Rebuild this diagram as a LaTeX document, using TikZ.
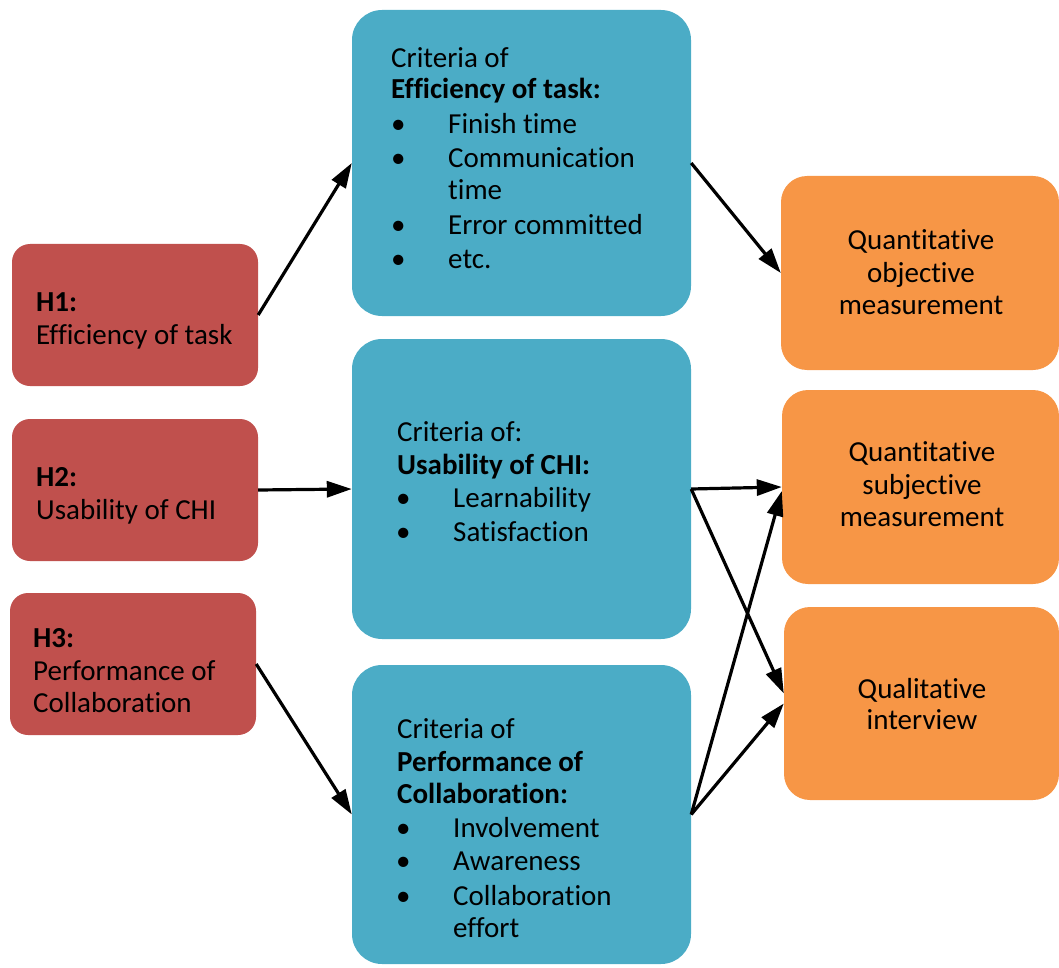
\documentclass[tikz,border=0pt]{standalone}
\usepackage{fontspec}
\setmainfont[Ligatures=NoCommon]{Carlito}
\usetikzlibrary{arrows.meta}
\definecolor{hred}{HTML}{C0504D}
\definecolor{cblue}{HTML}{4BACC6}
\definecolor{morange}{HTML}{F79646}
\begin{document}
\begin{tikzpicture}[x=1pt,y=-1pt,
  box/.style={draw=none,rounded corners=#1,inner sep=0pt},
  hbox/.style={box=18pt,fill=hred},
  cbox/.style={box=30pt,fill=cblue},
  mbox/.style={box=26pt,fill=morange},
  txt/.style={anchor=base west,inner sep=0pt,font=\fontsize{29}{33}\selectfont},
  ctxt/.style={anchor=base,inner sep=0pt,font=\fontsize{29}{33}\selectfont},
  conn/.style={line width=3.2pt,-{Triangle[length=25pt,width=16pt]}}]
\useasboundingbox (0,0) rectangle (1059,968);
% hypothesis boxes
\node[hbox,minimum width=246pt,minimum height=142pt] (h1) at (135,315) {};
\node[hbox,minimum width=246pt,minimum height=142pt] (h2) at (135,490) {};
\node[hbox,minimum width=246pt,minimum height=142pt] (h3) at (133,664) {};
% criteria boxes
\node[cbox,minimum width=339pt,minimum height=306pt] (b1) at (521.5,163) {};
\node[cbox,minimum width=339pt,minimum height=300pt] (b2) at (521.5,489) {};
\node[cbox,minimum width=339pt,minimum height=299pt] (b3) at (521.5,814.5) {};
% measurement boxes
\node[mbox,minimum width=278pt,minimum height=194pt] (o1) at (920,273) {};
\node[mbox,minimum width=277pt,minimum height=194pt] (o2) at (920.5,487) {};
\node[mbox,minimum width=275pt,minimum height=193pt] (o3) at (921.5,703.5) {};
% H texts
\node[txt] (h1a) at (36,311) {\textbf{H1:}};
\node[txt] (h1b) at (36,344) {Efficiency of task};
\node[txt] (h2a) at (36,486) {\textbf{H2:}};
\node[txt] (h2b) at (36,519) {Usability of CHI};
\node[txt] (h3a) at (33,647) {\textbf{H3:}};
\node[txt] (h3b) at (33,680) {Performance of};
\node[txt] (h3c) at (33,712) {Collaboration};
% box 1 texts
\node[txt] (b1a) at (391,68) {Criteria of};
\node[txt] (b1b) at (391,99) {\textbf{Efficiency of task:}};
\node[txt] (b1c) at (391,134) {•};
\node[txt] (b1d) at (448,134) {Finish time};
\node[txt] (b1e) at (391,168) {•};
\node[txt] (b1f) at (448,168) {Communication};
\node[txt] (b1g) at (448,200) {time};
\node[txt] (b1h) at (391,234) {•};
\node[txt] (b1i) at (448,234) {Error committed};
\node[txt] (b1j) at (391,268) {•};
\node[txt] (b1k) at (448,268) {etc.};
% box 2 texts
\node[txt] (b2a) at (397,441) {Criteria of:};
\node[txt] (b2b) at (397,474) {\textbf{Usability of CHI:}};
\node[txt] (b2c) at (396,507) {•};
\node[txt] (b2d) at (453,507) {Learnability};
\node[txt] (b2e) at (396,541) {•};
\node[txt] (b2f) at (453,541) {Satisfaction};
% box 3 texts
\node[txt] (b3a) at (397,738) {Criteria of};
\node[txt] (b3b) at (397,771) {\textbf{Performance of}};
\node[txt] (b3c) at (397,803) {\textbf{Collaboration:}};
\node[txt] (b3d) at (396,837) {•};
\node[txt] (b3e) at (453,837) {Involvement};
\node[txt] (b3f) at (396,870) {•};
\node[txt] (b3g) at (453,870) {Awareness};
\node[txt] (b3h) at (396,905) {•};
\node[txt] (b3i) at (453,905) {Collaboration};
\node[txt] (b3j) at (453,937) {effort};
% measurement texts
\node[ctxt] (o1a) at (921,249) {Quantitative};
\node[ctxt] (o1b) at (921,282) {objective};
\node[ctxt] (o1c) at (921,314) {measurement};
\node[ctxt] (o2a) at (922,461) {Quantitative};
\node[ctxt] (o2b) at (922,494) {subjective};
\node[ctxt] (o2c) at (922,526) {measurement};
\node[ctxt] (o3a) at (922,698) {Qualitative};
\node[ctxt] (o3b) at (922,729) {interview};
% connectors
\draw[conn] (h1.east) -- (b1.west);
\draw[conn] (h2.east) -- (b2.west);
\draw[conn] (h3.east) -- (b3.west);
\draw[conn] (b1.east) -- (o1.west);
\draw[conn] (b2.east) -- (o2.west);
\draw[conn] (b2.east) -- ([yshift=10pt]o3.west);
\draw[conn] (b3.east) -- ([yshift=-4pt]o2.west);
\draw[conn] (b3.east) -- (o3.west);
\end{tikzpicture}
\end{document}
